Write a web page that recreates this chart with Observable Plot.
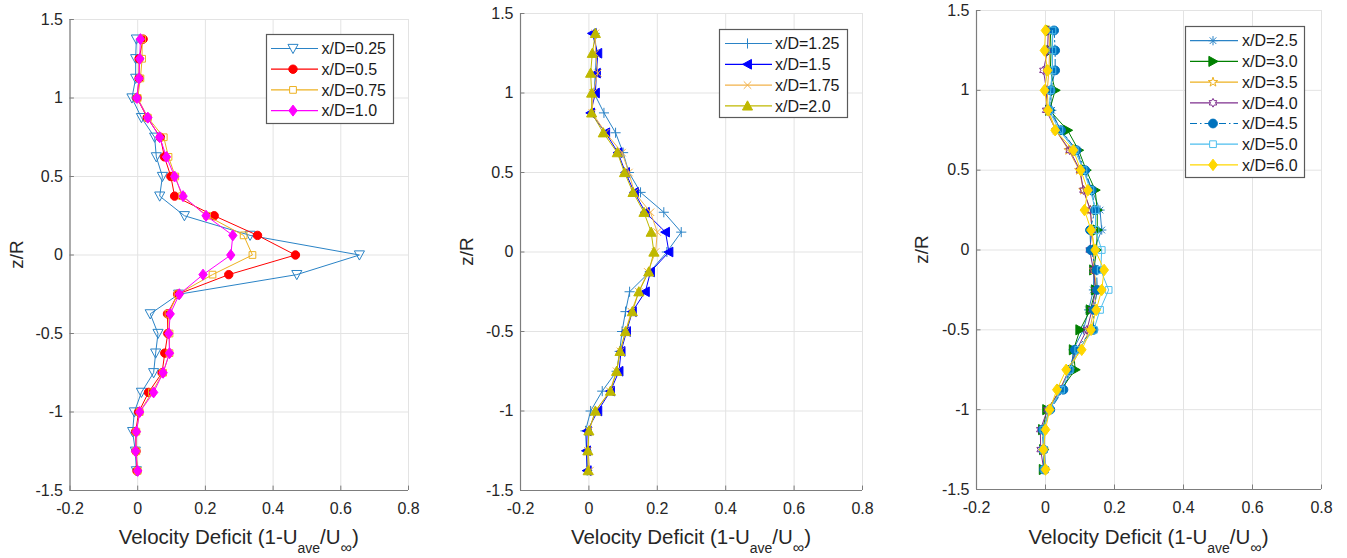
<!DOCTYPE html>
<html>
<head>
<meta charset="utf-8">
<script src="https://cdn.jsdelivr.net/npm/d3@7"></script>
<script src="https://cdn.jsdelivr.net/npm/@observablehq/plot@0.6"></script>
<style>
  html, body { margin: 0; padding: 0; background: #fff; }
  #root { position: relative; width: 1347px; height: 558px; overflow: hidden; font-family: "Liberation Sans", Arial, sans-serif; }
  .panel { position: absolute; top: 0; }
  #overlay { position: absolute; left: 0; top: 0; pointer-events: none; }
</style>
</head>
<body>
<div id="root"></div>
<script>
// ---------- data ----------
const zR = [1.375, 1.25, 1.125, 1.0, 0.875, 0.75, 0.625, 0.5, 0.375, 0.25, 0.125, 0,
            -0.125, -0.25, -0.375, -0.5, -0.625, -0.75, -0.875, -1.0, -1.125, -1.25, -1.375];

const xTicks = [-0.2, 0, 0.2, 0.4, 0.6, 0.8];
const yTicks = [-1.5, -1, -0.5, 0, 0.5, 1, 1.5];

// panel 1
const xd025 = [-0.004,-0.006,-0.006,-0.017,0.011,0.05,0.055,0.073,0.065,0.138,0.332,0.655,0.47,0.121,0.037,0.06,0.053,0.047,0.011,-0.01,-0.015,-0.007,-0.004];
const xd05  = [0.016,0.004,0.004,-0.002,0.028,0.067,0.079,0.098,0.109,0.226,0.354,0.466,0.269,0.118,0.088,0.089,0.08,0.072,0.032,0.003,-0.006,-0.005,-0.002];
const xd075 = [0.013,0.013,0.008,0,0.03,0.077,0.091,0.111,0.131,0.205,0.313,0.339,0.221,0.118,0.091,0.094,0.094,0.075,0.042,0.006,-0.004,-0.004,0];
const xd10  = [0.008,0.006,0.004,-0.002,0.03,0.065,0.085,0.109,0.134,0.202,0.281,0.275,0.193,0.123,0.096,0.092,0.094,0.075,0.047,0.006,-0.004,-0.006,0];
// panel 2
const xd125 = [0.017,0.022,0.019,0.015,0.044,0.078,0.1,0.117,0.151,0.219,0.27,0.228,0.178,0.119,0.107,0.097,0.09,0.081,0.039,0.005,-0.01,-0.007,-0.005];
const xd15  = [0.01,0.026,0.022,0.019,0.005,0.049,0.085,0.107,0.133,0.165,0.224,0.234,0.18,0.165,0.127,0.11,0.094,0.088,0.063,0.026,-0.005,-0.007,-0.005];
const xd175 = [0.019,0.019,0.026,0.012,0.01,0.049,0.097,0.117,0.133,0.18,0.2,0.195,0.172,0.146,0.124,0.107,0.092,0.081,0.061,0.019,0,-0.003,0.003];
const xd20  = [0.019,0.01,0.005,0.008,0.008,0.042,0.083,0.104,0.129,0.161,0.182,0.19,0.175,0.146,0.127,0.107,0.091,0.081,0.063,0.019,0,-0.003,-0.002];
// panel 3
const xd25 = [0.021,0.02,0.02,0.015,0.018,0.043,0.09,0.11,0.135,0.158,0.163,0.14,0.14,0.139,0.125,0.11,0.08,0.076,0.05,0.01,-0.005,-0.003,0];
const xd30 = [0.014,0.016,0.014,0.028,0.012,0.064,0.096,0.118,0.144,0.15,0.15,0.148,0.14,0.145,0.13,0.1,0.081,0.086,0.045,0.004,-0.008,-0.005,-0.006];
const xd35 = [0.01,0.012,0.01,0.005,0.008,0.03,0.067,0.098,0.11,0.13,0.135,0.14,0.14,0.15,0.14,0.128,0.1,0.07,0.04,0.01,-0.005,-0.005,-0.002];
const xd40 = [0.008,0.006,-0.006,0.003,0.002,0.03,0.07,0.1,0.11,0.13,0.135,0.128,0.139,0.145,0.135,0.12,0.09,0.068,0.043,0.006,-0.015,-0.014,-0.005];
const xd45 = [0.025,0.028,0.028,0.015,0.012,0.045,0.09,0.115,0.134,0.144,0.129,0.131,0.148,0.15,0.14,0.139,0.085,0.07,0.052,0.014,-0.008,-0.006,-0.004];
const xd50 = [0.02,0.02,0.02,0.015,0.01,0.04,0.085,0.11,0.13,0.145,0.145,0.163,0.16,0.183,0.158,0.14,0.095,0.07,0.045,0.012,-0.006,-0.006,-0.003];
const xd60 = [0,-0.003,0.006,-0.003,0.007,0.028,0.081,0.102,0.123,0.113,0.132,0.144,0.17,0.163,0.147,0.132,0.105,0.06,0.033,0.012,0,-0.006,0];

const xLabelMain = "Velocity Deficit (1-U";
const yLabel = "z/R";

// ---------- marker shapes (d3-symbol compatible) ----------
function poly(pts) {
  return { draw(ctx, size) {
    const h = Math.sqrt(size / Math.PI);
    ctx.moveTo(pts[0][0] * h, pts[0][1] * h);
    for (let i = 1; i < pts.length; i++) ctx.lineTo(pts[i][0] * h, pts[i][1] * h);
    ctx.closePath();
  }};
}
function star(n, ro, ri) {
  const pts = [];
  for (let i = 0; i < 2 * n; i++) {
    const a = -Math.PI / 2 + i * Math.PI / n, r = i % 2 ? ri : ro;
    pts.push([r * Math.cos(a), r * Math.sin(a)]);
  }
  return poly(pts);
}
const S = {
  triDown: poly([[-1.1,-0.9],[1.1,-0.9],[0,1.1]]),
  triUp: poly([[0,-1.1],[1.1,0.9],[-1.1,0.9]]),
  triLeft: poly([[-1.1,0],[0.9,-1.1],[0.9,1.1]]),
  triRight: poly([[1.1,0],[-0.9,-1.1],[-0.9,1.1]]),
  diamond: poly([[0,-1.25],[0.95,0],[0,1.25],[-0.95,0]]),
  square: poly([[-0.8,-0.8],[0.8,-0.8],[0.8,0.8],[-0.8,0.8]]),
  circle: d3.symbolCircle,
  plus: { draw(ctx, size) { const h = Math.sqrt(size / Math.PI) * 1.15;
    ctx.moveTo(-h,0); ctx.lineTo(h,0); ctx.moveTo(0,-h); ctx.lineTo(0,h); } },
  times: { draw(ctx, size) { const h = Math.sqrt(size / Math.PI) * 0.85;
    ctx.moveTo(-h,-h); ctx.lineTo(h,h); ctx.moveTo(-h,h); ctx.lineTo(h,-h); } },
  asterisk: { draw(ctx, size) { const h = Math.sqrt(size / Math.PI) * 1.1, d = h * 0.72;
    ctx.moveTo(-h,0); ctx.lineTo(h,0); ctx.moveTo(0,-h); ctx.lineTo(0,h);
    ctx.moveTo(-d,-d); ctx.lineTo(d,d); ctx.moveTo(-d,d); ctx.lineTo(d,-d); } },
  pentagram: star(5, 1.3, 0.5),
  hexagram: star(6, 1.15, 0.66)
};

// ---------- series definitions ----------
const BLUE = "#2a83c6";
const panels = [
  { left: 0, width: 440, mL: 69.5, mR: 32, mT: 19, mB: 68,
    legend: { x: 266, y: 34, w: 127, h: 89, row0: 48.5, dy: 20.7, l0: 271, l1: 318, mx: 293, tx: 321.5 },
    ylab: 17,
    series: [
      { name: "x/D=0.25", v: xd025, color: BLUE, sym: S.triDown, filled: false, r: 4.6 },
      { name: "x/D=0.5", v: xd05, color: "#ff0000", sym: S.circle, filled: true, r: 4.2 },
      { name: "x/D=0.75", v: xd075, color: "#edb120", sym: S.square, filled: false, r: 4.2 },
      { name: "x/D=1.0", v: xd10, color: "#ff00ff", sym: S.diamond, filled: true, r: 4.4 }
    ] },
  { left: 450, width: 440, mL: 70, mR: 28, mT: 13, mB: 68,
    legend: { x: 719, y: 29, w: 128, h: 88, row0: 43.5, dy: 20.8, l0: 725, l1: 772, mx: 747.5, tx: 775 },
    ylab: 467,
    series: [
      { name: "x/D=1.25", v: xd125, color: BLUE, sym: S.plus, filled: false, stroke: true, r: 4.4 },
      { name: "x/D=1.5", v: xd15, color: "#0000ff", sym: S.triLeft, filled: true, r: 4.4 },
      { name: "x/D=1.75", v: xd175, color: "#f2b24a", sym: S.times, filled: false, stroke: true, r: 4.4 },
      { name: "x/D=2.0", v: xd20, color: "#bfb800", sym: S.triUp, filled: true, r: 4.6 }
    ] },
  { left: 900, width: 447, mL: 76, mR: 26, mT: 10, mB: 69,
    legend: { x: 1185, y: 26, w: 119, h: 151, row0: 40.7, dy: 20.7, l0: 1190, l1: 1238, mx: 1213, tx: 1242 },
    ylab: 922,
    series: [
      { name: "x/D=2.5", v: xd25, color: BLUE, sym: S.asterisk, filled: false, stroke: true, r: 4.2 },
      { name: "x/D=3.0", v: xd30, color: "#008000", sym: S.triRight, filled: true, r: 4.6 },
      { name: "x/D=3.5", v: xd35, color: "#edb120", sym: S.pentagram, filled: false, r: 3.8 },
      { name: "x/D=4.0", v: xd40, color: "#7e2f8e", sym: S.hexagram, filled: false, r: 3.8 },
      { name: "x/D=4.5", v: xd45, color: "#0072bd", sym: S.circle, filled: true, r: 4.4, dash: "7,3,1.5,3" },
      { name: "x/D=5.0", v: xd50, color: "#4dbeee", sym: S.square, filled: false, r: 4.2 },
      { name: "x/D=6.0", v: xd60, color: "#ffd700", sym: S.diamond, filled: true, r: 4.6 }
    ] }
];

const fmt = d => String(+d.toFixed(1)).replace("\u2212", "-");
const AX = "#7d7d7d";
const root = document.getElementById("root");

for (const p of panels) {
  const marks = [
    Plot.ruleX(xTicks, { stroke: "#e3e3e3", strokeWidth: 1 }),
    Plot.ruleY(yTicks, { stroke: "#e3e3e3", strokeWidth: 1 }),
    Plot.ruleX([-0.2], { stroke: AX, strokeWidth: 1.2 }),
    Plot.ruleY([-1.5], { stroke: AX, strokeWidth: 1.2 }),
    Plot.ruleX(xTicks, { y1: -1.5, y2: -1.472, stroke: AX, strokeWidth: 1 }),
    Plot.ruleY(yTicks, { x1: -0.2, x2: -0.187, stroke: AX, strokeWidth: 1 })
  ];
  for (const s of p.series) {
    const rows = zR.map((z, i) => ({ z, v: s.v[i] }));
    marks.push(Plot.line(rows, { x: "v", y: "z", stroke: s.color, strokeWidth: 1, strokeDasharray: s.dash, curve: "linear" }));
    marks.push(Plot.dot(rows, { x: "v", y: "z", symbol: s.sym, r: s.r,
      fill: s.filled ? s.color : "none", stroke: s.color, strokeWidth: 1 }));
  }
  const chart = Plot.plot({
    width: p.width, height: 558,
    marginLeft: p.mL, marginRight: p.mR, marginTop: p.mT, marginBottom: p.mB,
    style: { fontFamily: '"Liberation Sans", Arial, sans-serif', fontSize: "16px", color: "#262626", background: "transparent", overflow: "visible" },
    x: { domain: [-0.2, 0.8], ticks: xTicks, tickFormat: fmt, tickSize: 0, tickPadding: 12, label: null },
    y: { domain: [-1.5, 1.5], ticks: yTicks, tickFormat: fmt, tickSize: 0, tickPadding: 7, label: null },
    marks
  });
  chart.classList.add("panel");
  chart.style.left = p.left + "px";
  root.appendChild(chart);
}

// ---------- overlay: legends and axis titles ----------
const svg = d3.select(root).append("svg").attr("id", "overlay")
  .attr("width", 1347).attr("height", 558)
  .style("font-family", '"Liberation Sans", Arial, sans-serif');

for (const p of panels) {
  const L = p.legend;
  const g = svg.append("g");
  g.append("rect").attr("x", L.x + 0.5).attr("y", L.y + 0.5).attr("width", L.w).attr("height", L.h)
    .attr("fill", "#fff").attr("stroke", "#5a5a5a").attr("stroke-width", 1.2);
  p.series.forEach((s, i) => {
    const y = L.row0 + i * L.dy;
    g.append("line").attr("x1", L.l0).attr("x2", L.l1).attr("y1", y).attr("y2", y)
      .attr("stroke", s.color).attr("stroke-width", 1.2).attr("stroke-dasharray", s.dash || null);
    g.append("path").attr("transform", `translate(${L.mx},${y})`)
      .attr("d", d3.symbol().type(s.sym).size(Math.PI * s.r * s.r)())
      .attr("fill", s.filled ? s.color : "#fff").attr("stroke", s.color).attr("stroke-width", 1);
    g.append("text").attr("x", L.tx).attr("y", y).attr("dy", "0.36em")
      .attr("font-size", 16).attr("fill", "#1a1a1a").text(s.name);
  });

  // x title
  const cx = p.left + p.mL + (p.width - p.mL - p.mR) / 2;
  const t = svg.append("text").attr("x", cx).attr("y", 544).attr("text-anchor", "middle")
    .attr("font-size", 20.5).attr("fill", "#262626");
  t.append("tspan").text(xLabelMain);
  t.append("tspan").attr("font-size", 14).attr("dy", 9).text("ave");
  t.append("tspan").attr("dy", -9).text("/U");
  t.append("tspan").attr("font-size", 16).attr("dy", 9).text("\u221e");
  t.append("tspan").attr("dy", -9).text(")");

  // y title
  const cy = p.mT + (558 - p.mT - p.mB) / 2;
  svg.append("text").attr("transform", `translate(${p.ylab + 6},${cy}) rotate(-90)`)
    .attr("text-anchor", "middle").attr("font-size", 19).attr("fill", "#262626").text(yLabel);
}
</script>
</body>
</html>
